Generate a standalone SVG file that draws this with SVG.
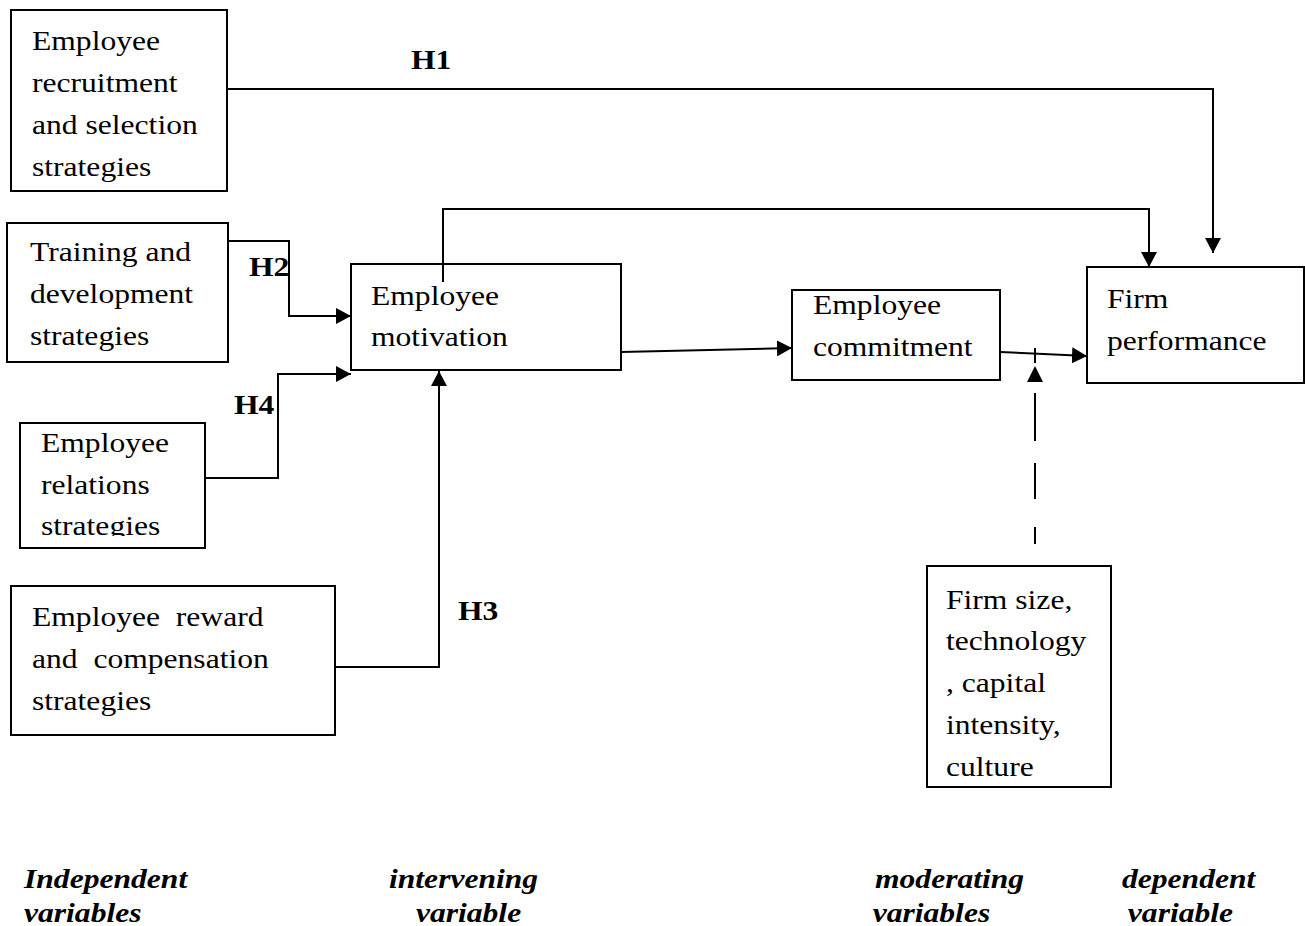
<svg xmlns="http://www.w3.org/2000/svg" width="1305" height="926" viewBox="0 0 1305 926">
<style>
.box{fill:#fff;stroke:#000;stroke-width:2}
.t{font-family:"Liberation Serif","Times New Roman",serif;font-size:27px;fill:#000}
.h{font-family:"Liberation Serif","Times New Roman",serif;font-size:27px;font-weight:bold;fill:#000}
.lab{font-family:"Liberation Serif","Times New Roman",serif;font-size:27px;font-weight:bold;font-style:italic;fill:#000}
.c{fill:none;stroke:#000;stroke-width:2}
</style>
<defs>
<marker id="arr" markerUnits="userSpaceOnUse" markerWidth="16" markerHeight="16" refX="15" refY="8" orient="auto">
<path d="M0,0 L15,8 L0,16 z" fill="#000"/>
</marker>
<clipPath id="clip1"><rect x="11" y="10" width="216" height="172"/></clipPath>
<clipPath id="clip3"><rect x="20" y="423" width="185" height="113"/></clipPath>
</defs>

<g id="recruitment">
<rect class="box" x="11" y="10" width="216" height="181"/>
<g clip-path="url(#clip1)">
<text class="t" transform="translate(32,0) scale(1.17,1)"><tspan x="0" y="50">Employee</tspan><tspan x="0" y="92">recruitment</tspan><tspan x="0" y="134">and selection</tspan><tspan x="0" y="176">strategies</tspan></text>
</g>
</g>

<g id="training">
<rect class="box" x="7" y="223" width="221" height="139"/>
<text class="t" transform="translate(30,0) scale(1.17,1)"><tspan x="0" y="261">Training and</tspan><tspan x="0" y="303">development</tspan><tspan x="0" y="345">strategies</tspan></text>
</g>

<g id="relations">
<rect class="box" x="20" y="423" width="185" height="125"/>
<g clip-path="url(#clip3)">
<text class="t" transform="translate(41,0) scale(1.17,1)"><tspan x="0" y="452">Employee</tspan><tspan x="0" y="494">relations</tspan><tspan x="0" y="535">strategies</tspan></text>
</g>
</g>

<g id="reward">
<rect class="box" x="11" y="586" width="324" height="149"/>
<text class="t" style="white-space:pre" transform="translate(32,0) scale(1.17,1)"><tspan x="0" y="626">Employee  reward</tspan><tspan x="0" y="668">and  compensation</tspan><tspan x="0" y="710">strategies</tspan></text>
</g>

<g id="motivation">
<rect class="box" x="351" y="264" width="270" height="106"/>
<text class="t" transform="translate(371,0) scale(1.17,1)"><tspan x="0" y="305">Employee</tspan><tspan x="0" y="346">motivation</tspan></text>
</g>

<g id="commitment">
<rect class="box" x="792" y="290" width="208" height="90"/>
<text class="t" transform="translate(813,0) scale(1.17,1)"><tspan x="0" y="314">Employee</tspan><tspan x="0" y="356">commitment</tspan></text>
</g>

<g id="performance">
<rect class="box" x="1087" y="267" width="217" height="116"/>
<text class="t" transform="translate(1107,0) scale(1.17,1)"><tspan x="0" y="308">Firm</tspan><tspan x="0" y="350">performance</tspan></text>
</g>

<g id="moderators">
<rect class="box" x="927" y="566" width="184" height="221"/>
<text class="t" transform="translate(946,0) scale(1.17,1)"><tspan x="0" y="609">Firm size,</tspan><tspan x="0" y="650">technology</tspan><tspan x="0" y="692">, capital</tspan><tspan x="0" y="734">intensity,</tspan><tspan x="0" y="776">culture</tspan></text>
</g>

<g id="connectors">
<polyline class="c" points="227,89 1213,89 1213,253" marker-end="url(#arr)"/>
<polyline class="c" points="443,282 443,209 1149,209 1149,267" marker-end="url(#arr)"/>
<polyline class="c" points="228,241 289,241 289,316 351,316" marker-end="url(#arr)"/>
<polyline class="c" points="205,478 278,478 278,374 351,374" marker-end="url(#arr)"/>
<polyline class="c" points="335,667 439,667 439,371" marker-end="url(#arr)"/>
<line class="c" x1="621" y1="352" x2="792" y2="348" marker-end="url(#arr)"/>
<line class="c" x1="1000" y1="352" x2="1087" y2="356" marker-end="url(#arr)"/>
<line class="c" x1="1035" y1="348" x2="1035" y2="363"/>
<path d="M1035,366 L1027,382 L1043,382 z" fill="#000"/>
<line class="c" x1="1035" y1="393" x2="1035" y2="441"/>
<line class="c" x1="1035" y1="463" x2="1035" y2="499"/>
<line class="c" x1="1035" y1="527" x2="1035" y2="544"/>
<text class="h" transform="translate(411,0) scale(1.17,1)" y="69">H1</text>
<text class="h" transform="translate(249,0) scale(1.17,1)" y="276">H2</text>
<text class="h" transform="translate(234,0) scale(1.17,1)" y="414">H4</text>
<text class="h" transform="translate(458,0) scale(1.17,1)" y="620">H3</text>
</g>

<g id="labels">
<text class="lab" transform="translate(24,0) scale(1.17,1)"><tspan x="0" y="888">Independent</tspan><tspan x="0" y="922">variables</tspan></text>
<text class="lab" transform="translate(389,0) scale(1.17,1)"><tspan x="0" y="888">intervening</tspan><tspan x="23" y="922">variable</tspan></text>
<text class="lab" transform="translate(875,0) scale(1.17,1)"><tspan x="0" y="888">moderating</tspan><tspan x="-2" y="922">variables</tspan></text>
<text class="lab" transform="translate(1122,0) scale(1.17,1)"><tspan x="0" y="888">dependent</tspan><tspan x="5" y="922">variable</tspan></text>
</g>
</svg>
